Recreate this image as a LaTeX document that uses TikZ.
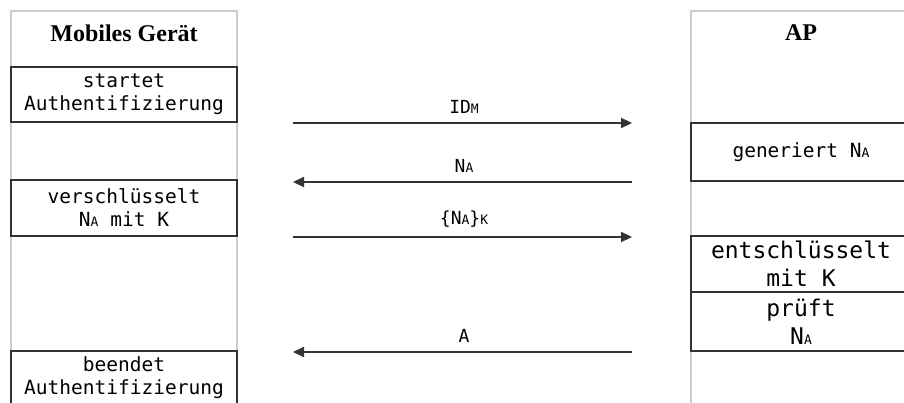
\documentclass[tikz,border=0pt]{standalone}
\usepackage{fontspec}
\setmainfont{Liberation Serif}
\setmonofont{DejaVu Sans Mono}
\usetikzlibrary{arrows.meta, positioning}

\newcommand{\klein}[1]{{\fontsize{13}{13}\selectfont #1}}

\begin{document}
\begin{tikzpicture}[
      x=1pt, y=-1pt,
      >={Triangle[length=11pt, width=10pt]},
      lane/.style={draw=black!20, line width=2pt, anchor=north west, inner sep=0pt},
      title/.style={font=\fontsize{24}{24}\selectfont\bfseries},
      stepbox/.style={draw=black!80, line width=2pt, anchor=north west, inner sep=0pt,
        align=center, font=\ttfamily\fontsize{19.5}{23}\selectfont},
      bigtext/.style={font=\ttfamily\fontsize{23}{28}\selectfont},
      msg/.style={->, draw=black!80, line width=2.2pt},
      sendr/.style={msg, shorten <=55pt, shorten >=58pt},
      sendl/.style={msg, shorten <=58pt, shorten >=55pt},
      lbl/.style={font=\ttfamily\fontsize{18}{18}\selectfont, above=5pt},
    ]

    \useasboundingbox (0,0) rectangle (904,403);
    \clip (0,0) rectangle (904,403);

    % lanes
    \node[lane, minimum width=226pt, minimum height=400pt] (mob) at (10,10) {};
    \node[lane, minimum width=220pt, minimum height=400pt] (ap) at (690,10) {};
    \node[title, below=11pt of mob.north] (mobtitle) {Mobiles Gerät};
    \node[title, below=11pt of ap.north]  (aptitle)  {AP};

    % steps of the mobile device
    \node[stepbox, minimum width=226pt, minimum height=55pt] (start) at (10,66)  {startet\\Authentifizierung};
    \node[stepbox, minimum width=226pt, minimum height=56pt] (enc)   at (10,179) {verschlüsselt\\N\klein{A} mit K};
    \node[stepbox, minimum width=226pt, minimum height=54pt] (done)  at (10,350) {beendet\\Authentifizierung};

    % steps of the AP
    \node[stepbox, minimum width=220pt, minimum height=58pt] (gen)         at (690,122) {generiert N\klein{A}};
    \node[stepbox, bigtext, minimum width=220pt, minimum height=56pt] (dec) at (690,235) {entschlüsselt\\mit K};
    \node[stepbox, bigtext, minimum width=220pt, minimum height=59pt] (chk) at (690,291) {prüft\\N\klein{A}};

    % messages
    \draw[sendr] (start.south east) -- node[lbl] {ID\klein{M}} (start.south east -| gen.west);
    \draw[sendl] (gen.south west) -- node[lbl] {N\klein{A}} (gen.south west -| enc.east);
    \draw[sendr] (enc.south east) -- node[lbl] {\{N\klein{A}\}\klein{K}} (enc.south east -| dec.west);
    \draw[sendl] (chk.south west) -- node[lbl] {A} (chk.south west -| done.east);

  \end{tikzpicture}
\end{document}
